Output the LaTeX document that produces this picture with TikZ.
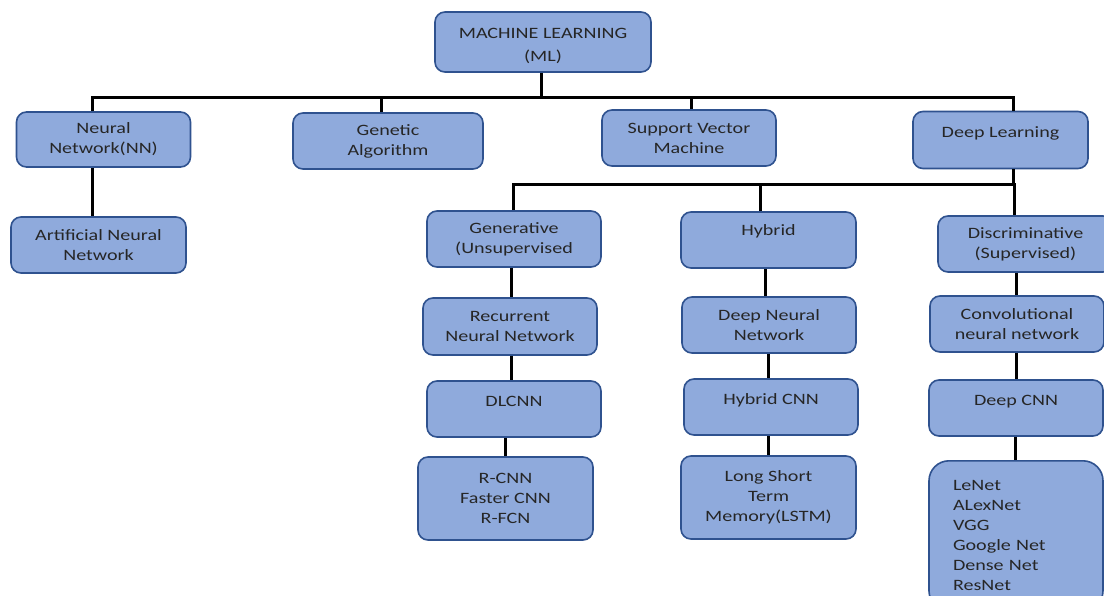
\documentclass[tikz,border=0pt]{standalone}
\usepackage{fontspec}
\setmainfont{Carlito}[FakeStretch=1.27]
\definecolor{boxfill}{HTML}{8FAADC}
\definecolor{boxline}{HTML}{2F528F}
\begin{document}
\begin{tikzpicture}[x=1pt,y=-1pt,
  txt/.style={align=center, inner sep=2pt, font=\fontsize{15.8}{20}\selectfont, text=black!85},
  box/.style={txt, draw=boxline, fill=boxfill, line width=1.6pt, rounded corners=10pt,
    minimum width=174pt, minimum height=56pt},
  conn/.style={line width=3pt, black}]
\clip (0,0) rectangle (1104,595);
\fill[white] (0,0) rectangle (1104,595);
% level 0
\node[box, minimum width=216pt, minimum height=60pt] (ml) at (543,42) {};
\node[txt] (mltext) at (543,45.5) {MACHINE LEARNING\\[3pt](ML)};
% level 1
\node[box, minimum height=55pt] (nn) at (103.5,139.5) {Neural\\Network(NN)};
\node[box, minimum width=190pt] (ga) at (388,141) {Genetic\\Algorithm};
\node[box] (svm) at (689,138) {Support Vector\\Machine};
\node[box, minimum width=175pt, minimum height=57pt] (dl) at (1000.5,140) {Deep Learning\\[-4pt]\mbox{}};
% level 2
\node[box, minimum width=175pt] (ann) at (98.5,245) {Artificial Neural\\Network};
\node[box] (gen) at (514,239) {Generative\\(Unsupervised};
\node[box, minimum width=175pt] (hyb) at (768.5,240) {Hybrid\\\mbox{}};
\node[box, minimum width=175pt] (dis) at (1025.5,244) {Discriminative\\(Supervised)};
% level 3
\node[box, minimum height=57pt] (rnn) at (510,326.5) {Recurrent\\Neural Network};
\node[box] (dnn) at (769,325) {Deep Neural\\Network};
\node[box] (cnn) at (1017,324) {Convolutional\\neural network};
% level 4
\node[box] (dlcnn) at (514,409) {DLCNN\\[-4pt]\mbox{}};
\node[box] (hcnn) at (771,407) {Hybrid CNN\\[-4pt]\mbox{}};
\node[box] (dcnn) at (1016,408) {Deep CNN\\[-4pt]\mbox{}};
% level 5
\node[box, minimum width=175pt, minimum height=83pt] (rcnn) at (505.5,498.5) {R-CNN\\Faster CNN\\R-FCN};
\node[box, minimum width=175pt, minimum height=83pt] (lstm) at (768.5,497.5) {Long Short\\Term\\Memory(LSTM)};
\node[box, anchor=north, minimum height=150pt, text width=126pt, align=left, rounded corners=20pt] (nets) at (1016,460)
  {LeNet\\ALexNet\\VGG\\Google Net\\Dense Net\\ResNet};
% connector coordinates
\coordinate (bus) at (0,97);
\coordinate (dlbus) at (0,184);
\coordinate (xnn) at (92,0);
\coordinate (xga) at (381,0);
\coordinate (xml) at (541,0);
\coordinate (xsvm) at (691,0);
\coordinate (xdl) at (1013,0);
\coordinate (xgen) at (513,0);
\coordinate (xhyb) at (760,0);
\coordinate (xdis) at (1014,0);
\coordinate (xg1) at (511,0);
\coordinate (xg2) at (505,0);
\coordinate (xh1) at (765,0);
\coordinate (xh2) at (768,0);
\coordinate (xd1) at (1016,0);
\coordinate (xd2) at (1015,0);
% main bus
\draw[conn] (ml.south -| xml) -- (bus -| xml);
\draw[conn] (nn.north -| xnn) -- (bus -| xnn) -- (bus -| xdl) -- (dl.north -| xdl);
\draw[conn] (ga.north -| xga) -- (bus -| xga);
\draw[conn] (svm.north -| xsvm) -- (bus -| xsvm);
\draw[conn] (nn.south -| xnn) -- (ann.north -| xnn);
% deep learning bus
\draw[conn] (dl.south -| xdl) -- (dlbus -| xdl);
\draw[conn] (gen.north -| xgen) -- (dlbus -| xgen) -- (dlbus -| xdis) -- (dis.north -| xdis);
\draw[conn] (hyb.north -| xhyb) -- (dlbus -| xhyb);
% chains
\draw[conn] (gen.south -| xg1) -- (rnn.north -| xg1);
\draw[conn] (rnn.south -| xg1) -- (dlcnn.north -| xg1);
\draw[conn] (dlcnn.south -| xg2) -- (rcnn.north -| xg2);
\draw[conn] (hyb.south -| xh1) -- (dnn.north -| xh1);
\draw[conn] (dnn.south -| xh2) -- (hcnn.north -| xh2);
\draw[conn] (hcnn.south -| xh2) -- (lstm.north -| xh2);
\draw[conn] (dis.south -| xd1) -- (cnn.north -| xd1);
\draw[conn] (cnn.south -| xd1) -- (dcnn.north -| xd1);
\draw[conn] (dcnn.south -| xd2) -- (nets.north -| xd2);
\end{tikzpicture}
\end{document}
